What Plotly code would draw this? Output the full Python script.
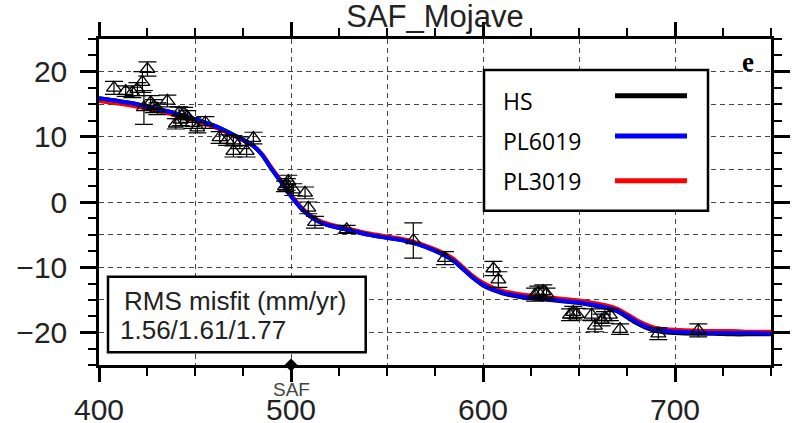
import plotly.graph_objects as go

# ---------------- data ----------------
obs_x = [407.8, 413.9, 417.4, 420.0, 422.6, 425.2, 423.4, 426.9, 428.6, 430.4,
         435.6, 440.0, 441.7, 442.5, 444.3, 446.0, 448.6, 451.2, 455.4, 462.8,
         466.7, 470.0, 470.0, 473.4, 476.9, 480.4, 496.9, 497.8, 498.6, 501.2,
         507.3, 509.0, 512.5, 529.0, 563.7, 580.2, 605.4, 608.0, 627.1, 628.8,
         631.4, 633.1, 645.3, 647.0, 648.8, 656.6, 658.3, 661.8, 663.5, 666.1,
         671.4, 691.3, 712.1]
obs_y = [17.5, 17.0, 16.8, 17.3, 18.4, 20.4, 14.5, 15.3, 14.7, 14.3,
         15.5, 12.0, 13.7, 12.6, 13.6, 13.1, 12.1, 11.4, 12.2, 9.9,
         9.5, 9.4, 7.8, 9.1, 7.8, 9.8, 2.4, 2.7, 3.2, 1.9,
         1.4, -0.9, -3.1, -4.2, -5.9, -8.6, -10.2, -11.9, -14.2, -13.9,
         -13.7, -14.1, -17.3, -16.9, -17.2, -17.3, -19.0, -18.1, -17.7, -17.3,
         -19.5, -20.2, -19.7]
obs_err = [1.0, 0.8, 0.8, 1.0, 1.6, 1.1, 2.6, 1.0, 1.0, 0.9,
           0.9, 0.8, 0.9, 0.9, 0.9, 0.9, 0.8, 0.8, 0.9, 0.9,
           0.8, 0.8, 0.9, 0.9, 0.9, 0.9, 0.8, 0.9, 0.9, 0.9,
           0.9, 0.9, 0.9, 0.6, 2.7, 1.0, 1.1, 1.2, 1.0, 1.0,
           1.0, 0.9, 0.9, 0.9, 0.9, 0.9, 0.9, 0.9, 0.9, 0.9,
           0.8, 0.9, 1.0]

model_x = [400, 410, 420, 430, 440, 450, 460, 470, 480, 485, 490, 495, 500, 505,
           510, 515, 520, 530, 540, 550, 560, 570, 580, 585, 590, 595, 600, 605,
           610, 620, 630, 640, 650, 660, 665, 670, 675, 680, 685, 690, 695, 700,
           710, 720, 730, 740, 750]
hs_y = [15.9, 15.5, 15.0, 14.3, 13.6, 12.7, 11.7, 10.3, 8.7, 7.2, 5.0, 3.0, 0.9, -0.9,
        -2.2, -3.1, -3.6, -4.3, -5.0, -5.5, -6.0, -6.9, -8.2, -9.1, -10.4, -11.7, -12.8, -13.5,
        -14.0, -14.6, -14.9, -15.2, -15.5, -16.0, -16.3, -16.8, -17.7, -18.6, -19.3, -19.8, -20.0, -20.1,
        -20.2, -20.2, -20.3, -20.3, -20.3]
pl6019_y = [15.9, 15.5, 15.0, 14.3, 13.6, 12.7, 11.7, 10.3, 8.7, 7.2, 5.0, 3.0, 0.9, -0.9,
            -2.2, -3.1, -3.6, -4.3, -5.0, -5.5, -6.0, -6.9, -8.2, -9.1, -10.4, -11.7, -12.7, -13.4,
            -13.9, -14.5, -14.8, -15.1, -15.4, -15.9, -16.2, -16.7, -17.5, -18.4, -19.1, -19.6, -19.8, -19.9,
            -20.0, -20.1, -20.1, -20.1, -20.2]
pl3019_y = [15.5, 15.1, 14.6, 14.0, 13.3, 12.5, 11.5, 10.2, 8.7, 7.3, 5.2, 3.2, 1.1, -0.7,
            -2.0, -2.9, -3.4, -4.1, -4.8, -5.3, -5.8, -6.7, -7.9, -8.8, -10.1, -11.4, -12.4, -13.1,
            -13.6, -14.2, -14.5, -14.8, -15.1, -15.6, -15.9, -16.4, -17.2, -18.1, -18.8, -19.3, -19.5, -19.6,
            -19.7, -19.8, -19.8, -19.9, -19.9]

model_names = ["HS", "PL6019", "PL3019"]
model_colors = ["#000000", "#0000ff", "#ff0000"]

fault_x = [500]
fault_y = [-25]
fault_name = "SAF"

x_range = [400, 750]
y_range = [-25, 25]
title_text = "SAF_Mojave"
panel_label = "e"
rms_title = "RMS misfit (mm/yr)"
rms_values = "1.56/1.61/1.77"

# ---------------- figure ----------------
fig = go.Figure()

# invisible trace for the grid overlay axes
fig.add_trace(go.Scatter(x=[x_range[0]], y=[y_range[0]], xaxis="x2", yaxis="y2",
                         mode="markers", marker=dict(opacity=0), showlegend=False,
                         hoverinfo="skip"))

curves = {"HS": hs_y, "PL6019": pl6019_y, "PL3019": pl3019_y}
for name in ["PL3019", "HS", "PL6019"]:
    col = model_colors[model_names.index(name)]
    fig.add_trace(go.Scatter(x=model_x, y=curves[name], mode="lines", name=name,
                             line=dict(color=col, width=4, shape="spline", smoothing=0.6),
                             showlegend=False))

fig.add_trace(go.Scatter(
    x=obs_x, y=obs_y, mode="markers", showlegend=False,
    marker=dict(symbol="triangle-up-open", size=13, color="black", line=dict(width=1.3, color="black")),
    error_y=dict(type="data", array=obs_err, visible=True, color="black", thickness=1.2, width=9)))

fig.add_trace(go.Scatter(x=fault_x, y=fault_y, mode="markers", showlegend=False,
                         marker=dict(symbol="diamond", size=10, color="black"),
                         cliponaxis=False))

L, R, T, B = 99, 23, 39, 58
W, H = 794, 423
pw, ph = W - L - R, H - T - B

def px_x(p):
    return (p - L) / pw

def px_y(p):
    return (H - B - p) / ph

tick_font = dict(family="Liberation Sans, Arial, sans-serif", size=30, color="#222")

fig.update_layout(
    width=W, height=H,
    margin=dict(l=L, r=R, t=T, b=B, autoexpand=False),
    paper_bgcolor="white", plot_bgcolor="white",
    title=dict(text=title_text, x=0.5, xref="paper", xanchor="center",
               y=1 - 16 / H, yref="container", yanchor="middle",
               font=dict(family="Liberation Sans, Arial, sans-serif", size=31, color="#222")),
    xaxis=dict(range=x_range, tickmode="linear", tick0=400, dtick=100, automargin=False,
               ticks="outside", ticklen=14, tickwidth=2.5, tickcolor="black",
               showline=True, linewidth=2.5, linecolor="black", mirror="ticks",
               showgrid=False, zeroline=False, tickfont=tick_font, ticklabelstandoff=2,
               minor=dict(tick0=400, dtick=25, ticks="outside", ticklen=8, tickwidth=1.5,
                          tickcolor="black", showgrid=False)),
    yaxis=dict(range=y_range, tickmode="linear", tick0=0, dtick=10, automargin=False,
               ticks="outside", ticklen=16, tickwidth=2.5, tickcolor="black",
               showline=True, linewidth=2.5, linecolor="black", mirror="ticks",
               showgrid=False, zeroline=False, tickfont=tick_font, ticklabelstandoff=7,
               minor=dict(tick0=0, dtick=2.5, ticks="outside", ticklen=8, tickwidth=1.5,
                          tickcolor="black", showgrid=False)),
    xaxis2=dict(range=x_range, overlaying="x", anchor="y", tickmode="linear", tick0=400, dtick=50,
                showgrid=True, gridcolor="#444", gridwidth=1, griddash="5px,4px", automargin=False,
                ticks="", showticklabels=False, showline=False, zeroline=False),
    yaxis2=dict(range=y_range, overlaying="y", anchor="x", tickmode="linear", tick0=0, dtick=5,
                showgrid=True, gridcolor="#444", gridwidth=1, griddash="5px,4px", automargin=False,
                ticks="", showticklabels=False, showline=False, zeroline=False),
)

shapes = []
annotations = []

# legend box
shapes.append(dict(type="rect", xref="paper", yref="paper",
                   x0=px_x(484), x1=px_x(708), y0=px_y(210.7), y1=px_y(70),
                   fillcolor="white", line=dict(color="black", width=2.5), layer="above"))
leg_line_y = [95.7, 136, 180.7]
leg_text_y = [101, 141, 181]
for i, name in enumerate(model_names):
    shapes.append(dict(type="line", xref="paper", yref="paper",
                       x0=px_x(615), x1=px_x(687), y0=px_y(leg_line_y[i]), y1=px_y(leg_line_y[i]),
                       line=dict(color=model_colors[i], width=5), layer="above"))
    annotations.append(dict(text=name, xref="paper", yref="paper", x=px_x(501), y=px_y(leg_text_y[i]),
                            xanchor="left", yanchor="middle", showarrow=False,
                            font=dict(family="Open Sans, sans-serif", size=23, color="black")))

# RMS box
shapes.append(dict(type="rect", xref="paper", yref="paper",
                   x0=px_x(108), x1=px_x(365.7), y0=px_y(352.3), y1=px_y(276.7),
                   fillcolor="white", line=dict(color="black", width=2.5), layer="above"))
annotations.append(dict(text=rms_title, xref="paper", yref="paper", x=px_x(122), y=px_y(301),
                        xanchor="left", yanchor="middle", showarrow=False,
                        font=dict(family="Liberation Sans, Arial, sans-serif", size=26, color="#222")))
annotations.append(dict(text=rms_values, xref="paper", yref="paper", x=px_x(118), y=px_y(330),
                        xanchor="left", yanchor="middle", showarrow=False,
                        font=dict(family="Liberation Sans, Arial, sans-serif", size=26, color="#222")))

# panel label
annotations.append(dict(text="<b>" + panel_label + "</b>", xref="paper", yref="paper",
                        x=px_x(748.3), y=px_y(61.7), xanchor="center", yanchor="middle",
                        showarrow=False,
                        font=dict(family="Liberation Serif, Times New Roman, serif", size=27, color="black")))

# fault label
annotations.append(dict(text=fault_name, xref="x", yref="paper", x=fault_x[0], y=0,
                        xanchor="center", yanchor="top", yshift=-12, showarrow=False,
                        font=dict(family="Liberation Sans, Arial, sans-serif", size=19, color="#444")))

fig.update_layout(shapes=shapes, annotations=annotations)

fig.write_html("out.html")
